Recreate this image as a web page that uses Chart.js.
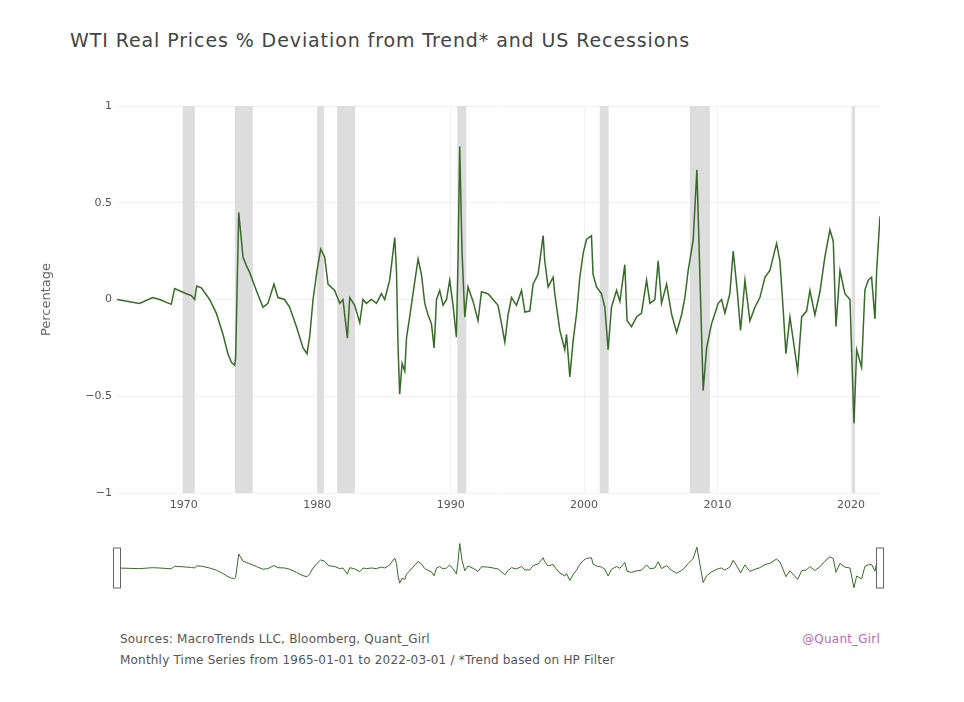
<!DOCTYPE html>
<html>
<head>
<meta charset="utf-8">
<script src="https://cdn.jsdelivr.net/npm/chart.js@4"></script>
<style>
    body { margin: 0; background: #fff; font-family: "DejaVu Sans", sans-serif; }
    #page { position: relative; width: 964px; height: 702px; overflow: hidden; }
    #title { position: absolute; left: 70px; top: 29px; font-size: 19px; letter-spacing: 0.9px; color: #444; white-space: nowrap; }
    .note { position: absolute; left: 120px; font-size: 12px; letter-spacing: 0.2px; color: #555; white-space: nowrap; }
    #handle { position: absolute; right: 84px; top: 632px; font-size: 12px; letter-spacing: 0.2px; color: #b86bb8; }
    #mainChart { position: absolute; left: 0; top: 0; }
    #sliderChart { position: absolute; left: 0; top: 537px; }
</style>
</head>
<body>
<div id="page">
    <div id="title">WTI Real Prices % Deviation from Trend* and US Recessions</div>
    <canvas id="mainChart" width="964" height="530"></canvas>
    <canvas id="sliderChart" width="964" height="62"></canvas>
    <div class="note" style="top: 632px;">Sources: MacroTrends LLC, Bloomberg, Quant_Girl</div>
    <div class="note" style="top: 653px;">Monthly Time Series from 1965-01-01 to 2022-03-01 / *Trend based on HP Filter</div>
    <div id="handle">@Quant_Girl</div>
</div>
<script>
// Dates as decimal years
const years = [
    1965.00, 1966.69, 1967.67, 1968.19, 1969.07, 1969.32, 1970.19, 1970.57, 1970.82, 1970.97,
    1971.32, 1971.94, 1972.44, 1972.94, 1973.31, 1973.57, 1973.82, 1973.89, 1974.12, 1974.44,
    1974.69, 1974.94, 1975.44, 1975.94, 1976.31, 1976.76, 1977.06, 1977.56, 1977.94, 1978.44,
    1978.94, 1979.24, 1979.44, 1979.69, 1979.99, 1980.26, 1980.56, 1980.81, 1981.31, 1981.69,
    1981.93, 1982.26, 1982.44, 1982.81, 1983.19, 1983.43, 1983.69, 1984.06, 1984.44, 1984.81,
    1985.06, 1985.43, 1985.81, 1985.94, 1986.06, 1986.18, 1986.36, 1986.56, 1986.69, 1986.93,
    1987.18, 1987.56, 1987.81, 1988.06, 1988.31, 1988.56, 1988.76, 1988.94, 1989.18, 1989.43,
    1989.69, 1989.93, 1990.18, 1990.43, 1990.55, 1990.68, 1990.85, 1991.06, 1991.30, 1991.68,
    1992.05, 1992.31, 1992.80, 1993.18, 1993.55, 1993.81, 1994.06, 1994.30, 1994.56, 1994.93,
    1995.31, 1995.56, 1995.93, 1996.18, 1996.55, 1996.93, 1997.05, 1997.30, 1997.68, 1997.80,
    1998.18, 1998.55, 1998.68, 1998.93, 1999.18, 1999.43, 1999.68, 1999.93, 2000.18, 2000.55,
    2000.67, 2000.93, 2001.30, 2001.55, 2001.80, 2002.05, 2002.43, 2002.68, 2003.05, 2003.22,
    2003.55, 2003.93, 2004.30, 2004.68, 2004.93, 2005.30, 2005.55, 2005.80, 2006.18, 2006.55,
    2006.93, 2007.30, 2007.55, 2007.80, 2008.17, 2008.45, 2008.92, 2009.18, 2009.55, 2010.05,
    2010.30, 2010.55, 2010.92, 2011.17, 2011.47, 2011.72, 2012.05, 2012.42, 2012.80, 2013.17,
    2013.55, 2013.92, 2014.42, 2014.67, 2014.92, 2015.12, 2015.42, 2015.67, 2016.00, 2016.30,
    2016.67, 2016.92, 2017.29, 2017.67, 2018.04, 2018.42, 2018.67, 2018.87, 2019.17, 2019.54,
    2019.92, 2020.22, 2020.42, 2020.79, 2021.04, 2021.29, 2021.54, 2021.79, 2021.92, 2022.17
];
const deviation = [
    0.00, -0.02, 0.01, 0.00, -0.025, 0.057, 0.03, 0.02, 0.00, 0.07,
    0.06, 0.00, -0.07, -0.18, -0.28, -0.325, -0.34, -0.30, 0.45, 0.22,
    0.175, 0.14, 0.047, -0.04, -0.02, 0.08, 0.01, 0.00, -0.04, -0.14,
    -0.25, -0.28, -0.19, 0.00, 0.15, 0.26, 0.22, 0.08, 0.047, -0.02,
    0.00, -0.20, 0.01, -0.03, -0.12, 0.00, -0.02, 0.00, -0.02, 0.03,
    0.00, 0.10, 0.32, 0.15, -0.25, -0.49, -0.33, -0.37, -0.20, -0.09,
    0.03, 0.21, 0.13, -0.02, -0.08, -0.125, -0.25, 0.00, 0.047, -0.03,
    0.00, 0.10, -0.03, -0.195, 0.20, 0.79, 0.25, -0.09, 0.065, -0.01,
    -0.11, 0.04, 0.03, 0.00, -0.03, -0.125, -0.22, -0.08, 0.01, -0.03,
    0.047, -0.065, -0.06, 0.08, 0.13, 0.33, 0.20, 0.065, 0.115, 0.03,
    -0.16, -0.26, -0.18, -0.40, -0.21, -0.075, 0.115, 0.24, 0.31, 0.33,
    0.13, 0.065, 0.03, -0.04, -0.26, -0.04, 0.047, -0.01, 0.18, -0.11,
    -0.14, -0.09, -0.07, 0.10, -0.02, 0.00, 0.20, -0.02, 0.08, -0.075,
    -0.17, -0.08, 0.01, 0.15, 0.305, 0.67, -0.47, -0.25, -0.125, -0.02,
    0.00, -0.07, 0.03, 0.25, 0.047, -0.16, 0.10, -0.11, -0.04, 0.01,
    0.115, 0.15, 0.29, 0.20, -0.057, -0.28, -0.09, -0.21, -0.37, -0.09,
    -0.06, 0.047, -0.08, 0.04, 0.22, 0.36, 0.30, -0.14, 0.15, 0.03,
    0.00, -0.64, -0.26, -0.35, 0.05, 0.10, 0.115, -0.10, 0.15, 0.43
];
// NBER recessions (start, end) in decimal years
const recessionStarts = [1969.92, 1973.83, 1980.00, 1981.50, 1990.50, 2001.17, 2007.92, 2020.08];
const recessionEnds   = [1970.83, 1975.17, 1980.50, 1982.83, 1991.17, 2001.83, 2009.42, 2020.25];
const xTickValues = [1970, 1980, 1990, 2000, 2010, 2020];
const yTickValues = [-1, -0.5, 0, 0.5, 1];

const xMin = 1965.0;
const xMax = 2022.17;
const lineColor = '#386a2a';

const points = years.map((yr, i) => ({ x: yr, y: deviation[i] }));

// Shade recession periods behind the line
const recessionBands = {
    id: 'recessionBands',
    beforeDatasetsDraw(chart) {
        const { ctx, chartArea, scales } = chart;
        ctx.save();
        ctx.fillStyle = '#dddddd';
        recessionStarts.forEach((start, i) => {
            const x0 = scales.x.getPixelForValue(start);
            const x1 = scales.x.getPixelForValue(recessionEnds[i]);
            ctx.fillRect(x0, chartArea.top, Math.max(x1 - x0, 3), chartArea.bottom - chartArea.top);
        });
        ctx.restore();
    }
};

// Range slider grab handles at both ends
const sliderHandles = {
    id: 'sliderHandles',
    afterDraw(chart) {
        const { ctx, chartArea, scales } = chart;
        const mid = (chartArea.top + chartArea.bottom) / 2;
        const h = 40;
        ctx.save();
        ctx.strokeStyle = '#666';
        ctx.fillStyle = '#fff';
        ctx.lineWidth = 1;
        [scales.x.getPixelForValue(xMin), scales.x.getPixelForValue(xMax)].forEach(px => {
            ctx.fillRect(px - 3.5, mid - h / 2, 7, h);
            ctx.strokeRect(px - 3.5, mid - h / 2, 7, h);
        });
        ctx.restore();
    }
};

const fontFamily = '"DejaVu Sans", sans-serif';

new Chart(document.getElementById('mainChart'), {
    type: 'line',
    data: {
        datasets: [{
            data: points,
            borderColor: lineColor,
            borderWidth: 1.5,
            pointRadius: 0,
            tension: 0,
            fill: false
        }]
    },
    options: {
        responsive: false,
        animation: false,
        layout: { padding: { left: 0, right: 84, top: 106, bottom: 0 } },
        plugins: { legend: { display: false }, tooltip: { enabled: false } },
        scales: {
            x: {
                type: 'linear',
                min: xMin,
                max: xMax,
                afterBuildTicks: scale => { scale.ticks = xTickValues.map(v => ({ value: v })); },
                afterFit: scale => { scale.height = 37; },
                grid: { color: '#f1f1f1', drawTicks: false },
                border: { display: false },
                ticks: {
                    padding: 6,
                    color: '#555',
                    font: { family: fontFamily, size: 11 },
                    callback: v => String(v)
                }
            },
            y: {
                min: -1,
                max: 1,
                afterBuildTicks: scale => { scale.ticks = yTickValues.map(v => ({ value: v })); },
                afterFit: scale => { scale.width = 117; },
                grid: { color: '#f1f1f1', drawTicks: false },
                border: { display: false },
                title: {
                    display: true,
                    text: 'Percentage',
                    color: '#666',
                    font: { family: fontFamily, size: 13 },
                    padding: { top: 39, bottom: 0 }
                },
                ticks: {
                    padding: 5,
                    color: '#555',
                    font: { family: fontFamily, size: 11 },
                    callback: v => (v < 0 ? '\u2212' + Math.abs(v) : String(v))
                }
            }
        }
    },
    plugins: [recessionBands]
});

new Chart(document.getElementById('sliderChart'), {
    type: 'line',
    data: {
        datasets: [{
            data: points,
            borderColor: lineColor,
            borderWidth: 1,
            pointRadius: 0,
            tension: 0,
            fill: false
        }]
    },
    options: {
        responsive: false,
        animation: false,
        layout: { padding: { left: 117, right: 84, top: 0, bottom: 0 } },
        plugins: { legend: { display: false }, tooltip: { enabled: false } },
        scales: {
            x: { type: 'linear', min: xMin, max: xMax, display: false },
            y: { min: -1, max: 1, display: false }
        }
    },
    plugins: [sliderHandles]
});
</script>
</body>
</html>
